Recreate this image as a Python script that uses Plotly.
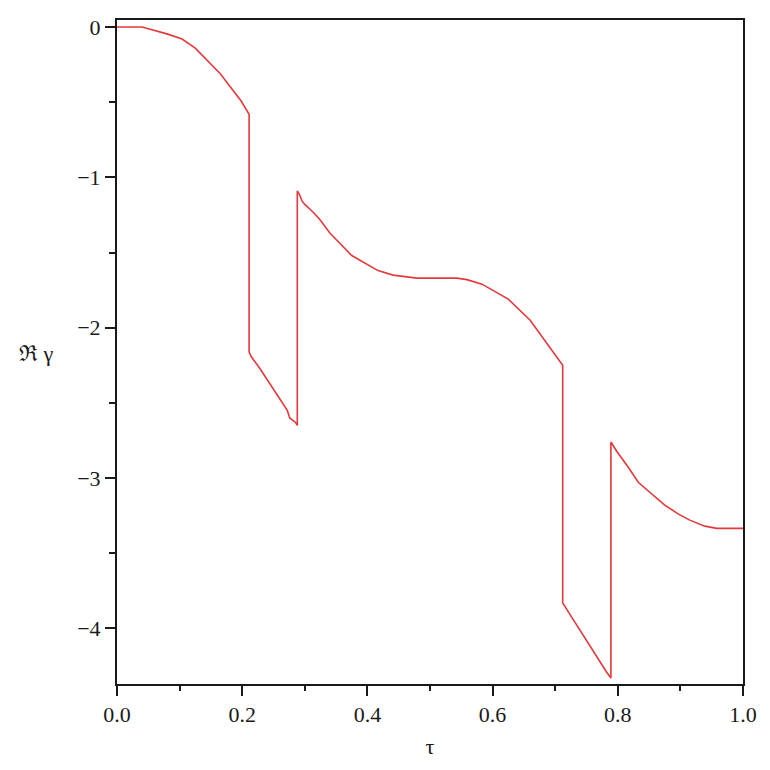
import plotly.graph_objects as go

# curve (repeated tau values are the vertical jumps)
tau = [0.0, 0.04, 0.081, 0.104, 0.125, 0.165, 0.198, 0.209, 0.211,
       0.211, 0.214, 0.228, 0.260, 0.272, 0.276, 0.285, 0.288,
       0.288, 0.291, 0.296, 0.300, 0.313, 0.324, 0.340, 0.375, 0.417,
       0.441, 0.479, 0.543, 0.559, 0.583, 0.625, 0.660, 0.708, 0.712,
       0.712, 0.716, 0.721, 0.782, 0.789,
       0.789, 0.798, 0.817, 0.833, 0.875, 0.897, 0.915, 0.939, 0.958, 1.0]
re_gamma = [0.0, 0.0, -0.047, -0.08, -0.14, -0.31, -0.49, -0.57, -0.58,
            -2.16, -2.19, -2.27, -2.48, -2.55, -2.60, -2.63, -2.65,
            -1.09, -1.11, -1.16, -1.18, -1.23, -1.28, -1.37, -1.52, -1.62,
            -1.65, -1.67, -1.67, -1.68, -1.71, -1.81, -1.95, -2.22, -2.25,
            -3.83, -3.86, -3.89, -4.29, -4.33,
            -2.76, -2.82, -2.93, -3.03, -3.18, -3.24, -3.28, -3.32, -3.335, -3.335]

x_ticks = [0.0, 0.2, 0.4, 0.6, 0.8, 1.0]
x_labels = ["0.0", "0.2", "0.4", "0.6", "0.8", "1.0"]
y_ticks = [0, -1, -2, -3, -4]

FONT = "Liberation Serif"
INK = "#1a1a1a"

fig = go.Figure()
fig.add_trace(
    go.Scatter(
        x=tau,
        y=re_gamma,
        mode="lines",
        line=dict(color="#e5383b", width=1.6),
        showlegend=False,
    )
)

axis_common = dict(
    showgrid=False,
    zeroline=False,
    showline=True,
    mirror=True,
    automargin=False,
    linecolor=INK,
    linewidth=2,
    ticks="outside",
    ticklen=10,
    tickwidth=2,
    tickcolor=INK,
    tickfont=dict(family=FONT, size=22, color=INK),
)

fig.update_xaxes(
    **axis_common,
    range=[0, 1],
    tickvals=x_ticks,
    ticktext=x_labels,
    minor=dict(dtick=0.1, ticks="outside", ticklen=5, tickwidth=2, tickcolor=INK),
    title=dict(text="τ", font=dict(family=FONT, size=22, color=INK), standoff=12),
)
fig.update_yaxes(
    **axis_common,
    range=[-4.37, 0.047],
    tickvals=y_ticks,
    minor=dict(dtick=0.5, ticks="outside", ticklen=6, tickwidth=2, tickcolor=INK),
)

# y label is drawn horizontally, left of the tick labels
fig.add_annotation(
    text="ℜ γ",
    xref="paper", yref="paper",
    x=-0.128, y=0.497,
    xanchor="center", yanchor="middle",
    showarrow=False,
    font=dict(family=FONT, size=22, color=INK),
)

# page body has an 8px margin, so the figure is a bit smaller than the window
fig.update_layout(
    width=754,
    height=754,
    margin=dict(l=109, r=19, t=12, b=78),
    plot_bgcolor="white",
    paper_bgcolor="white",
    font=dict(family=FONT, color=INK),
)

fig.write_html("out.html")
